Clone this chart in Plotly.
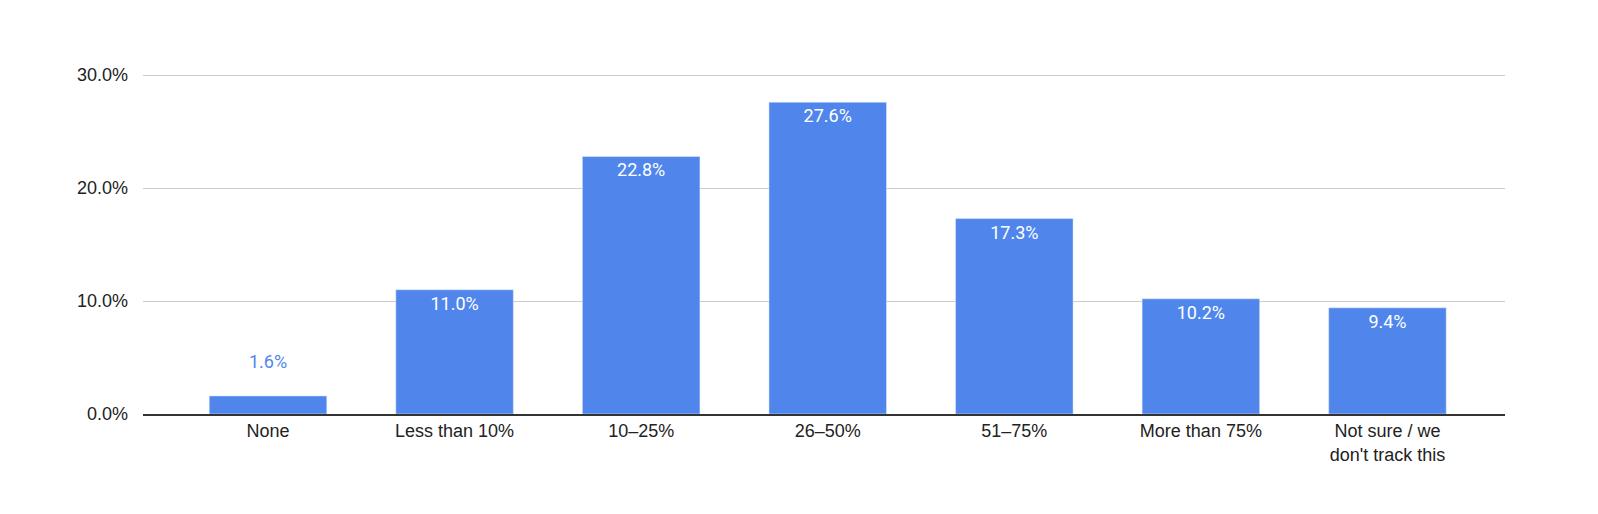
import plotly.graph_objects as go

categories = ["None", "Less than 10%", "10–25%", "26–50%", "51–75%", "More than 75%", "Not sure / we<br>don't track this"]
values = [0.016, 0.110, 0.228, 0.276, 0.173, 0.102, 0.094]
labels = ["1.6%", "11.0%", "22.8%", "27.6%", "17.3%", "10.2%", "9.4%"]
outside = [True, False, False, False, False, False, False]

inside_text = ["" if o else t for t, o in zip(labels, outside)]

fig = go.Figure(go.Bar(
    x=list(range(len(categories))), y=values, text=inside_text, textposition="inside",
    insidetextanchor="end", marker_color="#5086ec",
    insidetextfont=dict(family="Roboto", size=18, color="white"),
    textangle=0,
))
for i, (v, t, o) in enumerate(zip(values, labels, outside)):
    if o:
        fig.add_annotation(x=i, y=v, text=t, showarrow=False, yshift=34,
                           font=dict(family="Roboto", size=18, color="#5086ec"))
fig.update_layout(
    width=1598, height=514, plot_bgcolor="white", paper_bgcolor="white",
    margin=dict(l=135, r=101, t=66, b=108), bargap=0.37, showlegend=False,
    font=dict(family="Liberation Sans, Arial", size=18, color="#222"),
)
fig.update_yaxes(range=[0, 0.301], tickformat=".1%", tickvals=[0, 0.1, 0.2, 0.3],
                 gridcolor="#cccccc", zeroline=False, ticks="", ticklen=0,
                 ticklabelstandoff=14)
fig.update_xaxes(showline=True, linecolor="#333", linewidth=1.5, ticks="",
                 range=[-0.67, 6.63], tickvals=list(range(len(categories))),
                 ticktext=categories, showgrid=False)
fig.write_html("out.html")
